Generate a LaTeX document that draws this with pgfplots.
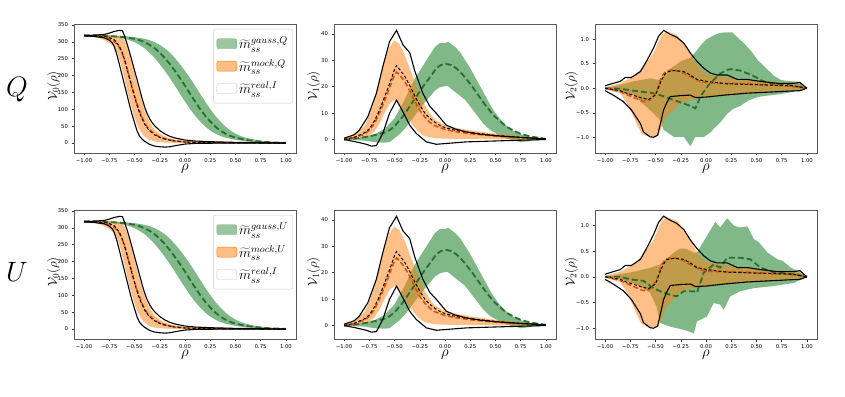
\RequirePackage{fix-cm}
\documentclass[border=0pt]{standalone}
\usepackage{fontspec}
\usepackage{pgfplots}
\pgfplotsset{compat=1.18}
\newfontfamily\tickfont{DejaVu Sans}

\definecolor{gband}{RGB}{129,184,135}
\definecolor{mockc}{RGB}{255,127,14}
\definecolor{gline}{RGB}{40,112,48}
\definecolor{oline}{RGB}{218,84,14}

\pgfplotsset{
  panel/.style={
    scale only axis, width=222pt, height=129pt,
    xmin=-1.1, xmax=1.1,
    xtick={-1,-0.75,-0.5,-0.25,0,0.25,0.5,0.75,1},
    xticklabels={−1.00,−0.75,−0.50,−0.25,0.00,0.25,0.50,0.75,1.00},
    tick label style={font=\tickfont\fontsize{5.3}{6}\selectfont},
    tick align=outside, xtick pos=lower, ytick pos=left,
    major tick length=2.5pt,
    tick style={black!80, line width=0.5pt},
    axis line style={black!65, line width=0.6pt},
    xlabel={$\rho$},
    x label style={font=\fontsize{15}{17}\selectfont, at={(axis description cs:0.5,0)}, anchor=north, yshift=-11pt, inner sep=0pt},
    y label style={font=\fontsize{13}{15}\selectfont, at={(axis description cs:-0.092,0.52)}, anchor=center, inner sep=0pt},
  },
  leg/.style={
    legend style={at={(0.987,0.962)}, anchor=north east, draw=black!20,
      rounded corners=2pt, fill=white, fill opacity=0.8, text opacity=1,
      font=\fontsize{14}{16}\selectfont, inner xsep=3pt, inner ysep=6pt, row sep=5pt},
    legend cell align=left,
  },
  gfill/.style={fill=gband, draw=none, forget plot},
  mfill/.style={fill=mockc, fill opacity=0.5, draw=none, forget plot},
  gmean/.style={gline, line width=1.8pt, dash pattern=on 6pt off 3pt, forget plot},
  mmean/.style={oline, line width=1.6pt, dash pattern=on 5pt off 2.5pt, forget plot},
  rline/.style={black, line width=1.1pt, forget plot},
  rmean/.style={black, line width=1pt, dash pattern=on 3pt off 2pt, forget plot},
  vzero/.style={ymin=-29.5, ymax=353, ytick={0,50,100,150,200,250,300,350},
    yticklabels={0,50,100,150,200,250,300,350}, ylabel={$\mathcal{V}_0(\rho)$}},
  vone/.style={ymin=-5.1, ymax=43.7, ytick={0,10,20,30,40},
    yticklabels={0,10,20,30,40}, ylabel={$\mathcal{V}_1(\rho)$}},
  vtwo/.style={ytick={-1,-0.5,0,0.5,1}, yticklabels={−1.0,−0.5,0.0,0.5,1.0},
    ylabel={$\mathcal{V}_2(\rho)$},
    y label style={at={(axis description cs:-0.107,0.52)}}},
}

% ---------------- V0 (same in both rows) ----------------
\newcommand\plotsVzero{%
% gauss band: upper edge left to right, lower edge back
\addplot[gfill] coordinates {(-1,320)(-0.8,319.5)(-0.6,317)(-0.5,314)(-0.4,309)(-0.35,305)(-0.3,299)(-0.25,291)(-0.2,281)(-0.15,268)(-0.1,252)(-0.05,234)(0,214)(0.05,193)(0.1,170)(0.15,146)(0.2,123)(0.25,101)(0.3,81)(0.35,64)(0.4,49)(0.45,37)(0.5,28)(0.55,21)(0.6,16)(0.7,9.5)(0.8,5.5)(0.9,3)(1,1.5)
 (1,0)(0.9,0.5)(0.8,1.5)(0.7,3)(0.6,5.5)(0.5,9.5)(0.4,16)(0.35,21)(0.3,28)(0.25,37)(0.2,49)(0.15,64)(0.1,81)(0.05,101)(0,123)(-0.05,146)(-0.1,170)(-0.15,193)(-0.2,214)(-0.25,234)(-0.3,252)(-0.35,268)(-0.4,281)(-0.45,291)(-0.5,299)(-0.55,305)(-0.6,309)(-0.7,314)(-0.8,317)(-1,319)};
% mock band
\addplot[mfill] coordinates {(-1,320)(-0.8,320)(-0.7,319.5)(-0.65,317)(-0.62,312)(-0.6,305)(-0.575,285)(-0.55,262)(-0.525,234)(-0.5,205)(-0.475,177)(-0.45,150)(-0.425,123)(-0.4,98)(-0.375,78)(-0.35,62)(-0.325,50)(-0.3,40)(-0.25,28)(-0.2,20)(-0.15,14)(-0.1,10)(0,7)(0.1,5)(0.25,4)(0.5,2)(0.75,1)(1,0.5)
 (1,0)(0,0)(-0.1,0.5)(-0.2,1.5)(-0.3,4.5)(-0.35,9)(-0.4,19)(-0.425,28)(-0.45,40)(-0.475,55)(-0.5,75)(-0.525,100)(-0.55,128)(-0.575,158)(-0.6,190)(-0.625,222)(-0.65,250)(-0.675,270)(-0.7,285)(-0.75,297)(-0.8,305)(-0.85,311)(-0.9,315)(-1,317.5)};
% gauss mean
\addplot[gmean] coordinates {(-1,320)(-0.8,318.5)(-0.6,314)(-0.5,309)(-0.45,305)(-0.4,299)(-0.35,291)(-0.3,281)(-0.25,268)(-0.2,252)(-0.15,234)(-0.1,214)(-0.05,193)(0,170)(0.05,146)(0.1,123)(0.15,101)(0.2,81)(0.25,64)(0.3,49)(0.35,37)(0.4,28)(0.45,21)(0.5,16)(0.6,9.5)(0.7,5.5)(0.8,3)(0.9,1.5)(1,0.5)};
% mock mean
\addplot[mmean] coordinates {(-1,318)(-0.9,317)(-0.8,314)(-0.75,310)(-0.7,302)(-0.65,284)(-0.625,268)(-0.6,248)(-0.575,222)(-0.55,195)(-0.525,167)(-0.5,140)(-0.475,116)(-0.45,95)(-0.425,76)(-0.4,60)(-0.375,48)(-0.35,39)(-0.3,26)(-0.25,18)(-0.2,12.5)(-0.15,9)(-0.1,6.5)(0,3.5)(0.1,2.2)(0.25,1.3)(0.5,0.6)(0.75,0.3)(1,0)};
% real band edges
\addplot[rline] coordinates {(-1,318)(-0.9,320)(-0.8,322)(-0.75,326)(-0.7,331)(-0.65,334)(-0.62,333)(-0.6,318)(-0.575,295)(-0.55,270)(-0.525,243)(-0.5,215)(-0.475,188)(-0.45,160)(-0.425,132)(-0.4,107)(-0.375,87)(-0.35,72)(-0.325,60)(-0.3,51)(-0.25,37)(-0.2,27)(-0.15,20)(-0.1,15)(0,9)(0.1,6)(0.25,4)(0.5,2)(0.75,1)(1,0)};
\addplot[rline] coordinates {(-1,318)(-0.9,316)(-0.8,312)(-0.75,305)(-0.72,297)(-0.7,285)(-0.675,262)(-0.65,233)(-0.625,203)(-0.6,173)(-0.575,143)(-0.55,113)(-0.525,85)(-0.5,60)(-0.475,36)(-0.45,20)(-0.43,13)(-0.4,5)(-0.35,-4)(-0.3,-9)(-0.25,-11)(-0.2,-12)(-0.15,-11)(-0.1,-8)(0,-3)(0.1,-1)(0.25,-0.5)(0.5,0)(1,0)};
% real mean
\addplot[rmean] coordinates {(-1,318)(-0.9,318)(-0.8,316)(-0.75,313)(-0.7,306)(-0.65,287)(-0.625,270)(-0.6,248)(-0.575,220)(-0.55,192)(-0.525,164)(-0.5,137)(-0.475,112)(-0.45,90)(-0.425,72)(-0.4,56)(-0.375,45)(-0.35,36)(-0.3,24)(-0.25,17)(-0.2,12)(-0.15,8.5)(-0.1,6)(0,3)(0.1,2)(0.25,1.3)(0.5,0.6)(0.75,0.3)(1,0)};
}

% ---------------- V1 (same in both rows) ----------------
\newcommand\plotsVone{%
\addplot[gfill] coordinates {(-1,0)(-0.9,0.5)(-0.8,1)(-0.7,2)(-0.6,4)(-0.5,8)(-0.4,15)(-0.3,23)(-0.2,29)(-0.15,32)(-0.1,35)(-0.05,36.5)(0,36.5)(0.03,37)(0.1,35)(0.15,33)(0.2,30)(0.25,27)(0.3,23.5)(0.35,20)(0.4,16.5)(0.45,13)(0.5,10)(0.55,7.5)(0.6,5.5)(0.65,4)(0.7,2.8)(0.75,2)(0.85,1)(1,0.3)
 (1,0)(0.9,-0.3)(0.8,-0.8)(0.75,-1)(0.7,-0.5)(0.6,0.5)(0.54,1.6)(0.45,3.5)(0.38,6)(0.3,10)(0.2,15)(0.1,18)(0.03,20.2)(0,20.2)(-0.05,19.8)(-0.1,18.5)(-0.2,14)(-0.3,9)(-0.4,4)(-0.45,2)(-0.5,0.5)(-0.55,-1)(-0.6,-1.2)(-0.7,-1)(-0.8,-0.4)(-0.9,-0.2)(-1,0)};
\addplot[mfill] coordinates {(-1,0.3)(-0.9,2)(-0.8,5)(-0.75,9)(-0.7,15)(-0.65,23)(-0.6,30)(-0.55,35)(-0.5,37.5)(-0.45,36)(-0.4,32)(-0.35,27)(-0.3,22)(-0.25,17)(-0.2,13)(-0.15,10)(-0.1,7.5)(0,5.5)(0.1,4.5)(0.25,3.5)(0.5,2.2)(0.75,1.2)(1,0.3)
 (1,0)(0.5,0.1)(0,0.3)(-0.1,0.5)(-0.2,1.2)(-0.25,2.5)(-0.3,4.5)(-0.35,7)(-0.4,10)(-0.45,13)(-0.5,15)(-0.55,13.5)(-0.6,10)(-0.65,6)(-0.7,3)(-0.75,1.5)(-0.8,0.8)(-0.9,0.2)(-1,0)};
\addplot[gmean] coordinates {(-1,0)(-0.9,0.3)(-0.78,1)(-0.7,1.6)(-0.6,2.6)(-0.55,3.5)(-0.5,5)(-0.42,8.6)(-0.35,12.5)(-0.285,16.2)(-0.2,21)(-0.14,24)(-0.086,27)(-0.04,28.2)(0.013,28.6)(0.06,28.2)(0.11,27)(0.16,25.2)(0.21,23)(0.28,19.5)(0.34,16.2)(0.41,12.5)(0.48,9.2)(0.55,6.8)(0.61,4.8)(0.68,3.4)(0.74,2.3)(0.8,1.6)(0.87,1)(1,0.25)};
\addplot[mmean] coordinates {(-1,0)(-0.9,0.7)(-0.8,2)(-0.75,3.5)(-0.7,6)(-0.65,10)(-0.6,14.5)(-0.55,19.5)(-0.5,24.5)(-0.48,25.5)(-0.45,24.5)(-0.4,22)(-0.35,18.5)(-0.3,14.5)(-0.25,11)(-0.2,8.5)(-0.15,6.5)(-0.1,5.2)(0,3.8)(0.1,3)(0.25,2.2)(0.5,1.3)(0.75,0.7)(1,0.2)};
\addplot[rline] coordinates {(-1,0.5)(-0.9,1.8)(-0.85,3.5)(-0.765,8.6)(-0.68,17.5)(-0.616,27.6)(-0.55,37)(-0.48,41.3)(-0.417,35.8)(-0.35,32.9)(-0.3,26)(-0.22,17.5)(-0.15,12.5)(-0.086,9.9)(0.013,5.4)(0.1,4)(0.21,2.9)(0.35,2)(0.54,1.3)(0.75,0.8)(1,0.25)};
\addplot[rline] coordinates {(-1,0)(-0.88,-0.9)(-0.78,-1.8)(-0.73,-2.5)(-0.68,-2.3)(-0.616,2.3)(-0.55,9.9)(-0.48,14.9)(-0.417,10.5)(-0.35,5.4)(-0.285,2.3)(-0.185,-0.9)(-0.086,-1.8)(0.08,-1.3)(0.21,-0.9)(0.54,-0.5)(1,0)};
\addplot[rmean] coordinates {(-1,0)(-0.9,0.8)(-0.8,2.5)(-0.75,4)(-0.7,7)(-0.65,11)(-0.6,16)(-0.55,21)(-0.5,26.5)(-0.48,28)(-0.45,26.5)(-0.4,24)(-0.35,20.5)(-0.3,16.5)(-0.25,13)(-0.2,10)(-0.15,8)(-0.1,6.5)(-0.05,5.3)(0,4.5)(0.1,3.5)(0.25,2.6)(0.5,1.6)(0.75,0.8)(1,0.2)};
}

% ---------------- V2: mock band, means and real curves ----------------
\newcommand\mockVtwo{%
\addplot[mfill] coordinates {(-1,0.02)(-0.85,0.1)(-0.72,0.24)(-0.62,0.44)(-0.52,0.72)(-0.44,1.09)(-0.39,1.16)(-0.29,1.09)(-0.19,0.85)(-0.12,0.58)(-0.056,0.375)(0,0.3)(0.05,0.27)(0.15,0.24)(0.3,0.19)(0.5,0.15)(0.75,0.12)(0.9,0.1)(1,0)
 (0.75,-0.07)(0.5,-0.1)(0.25,-0.14)(0.1,-0.17)(-0.05,-0.2)(-0.155,-0.24)(-0.255,-0.31)(-0.39,-0.58)(-0.44,-0.79)(-0.47,-0.96)(-0.555,-1.0)(-0.64,-0.92)(-0.69,-0.72)(-0.75,-0.44)(-0.8,-0.25)(-0.85,-0.1)(-1,-0.02)};
}
\newcommand\realVtwo{%
\addplot[mmean] coordinates {(-1,0)(-0.85,-0.07)(-0.74,-0.17)(-0.62,-0.27)(-0.555,-0.24)(-0.49,-0.07)(-0.44,0.24)(-0.4,0.34)(-0.34,0.375)(-0.27,0.35)(-0.22,0.31)(-0.155,0.24)(-0.056,0.14)(0.044,0.1)(0.2,0.1)(0.4,0.09)(0.6,0.07)(0.8,0.05)(1,0)};
\addplot[rline] coordinates {(-1,0.05)(-0.92,0.1)(-0.85,0.14)(-0.8,0.22)(-0.74,0.22)(-0.65,0.34)(-0.59,0.55)(-0.52,0.82)(-0.47,1.06)(-0.42,1.18)(-0.355,1.1)(-0.29,1.04)(-0.22,0.92)(-0.156,0.72)(-0.09,0.55)(-0.023,0.41)(0.043,0.31)(0.11,0.27)(0.21,0.27)(0.31,0.18)(0.41,0.18)(0.54,0.14)(0.71,0.1)(0.87,0.1)(0.93,0.12)(1,0)};
\addplot[rline] coordinates {(-1,-0.05)(-0.92,-0.14)(-0.82,-0.27)(-0.74,-0.44)(-0.65,-0.72)(-0.62,-0.89)(-0.555,-0.99)(-0.52,-1.0)(-0.48,-0.96)(-0.455,-0.75)(-0.42,-0.44)(-0.39,-0.3)(-0.355,-0.17)(-0.25,-0.15)(-0.155,-0.14)(-0.105,-0.19)(0,-0.18)(0.18,-0.14)(0.41,-0.1)(0.61,-0.08)(0.81,-0.06)(0.93,-0.05)(1,0)};
\addplot[rmean] coordinates {(-1,0)(-0.85,-0.05)(-0.79,-0.1)(-0.65,-0.19)(-0.57,-0.23)(-0.5,-0.14)(-0.455,0.1)(-0.42,0.25)(-0.39,0.33)(-0.32,0.36)(-0.22,0.34)(-0.156,0.27)(-0.09,0.18)(0.01,0.14)(0.21,0.09)(0.54,0.07)(0.87,0.05)(1,0)};
}

\newcommand\legendrows[1]{%
\addlegendimage{legend image code/.code={\fill[gband] (0pt,-5pt) rectangle (20pt,5pt);}}
\addlegendentry{$\widetilde{m}^{gauss,#1}_{ss}$}
\addlegendimage{legend image code/.code={\fill[mockc, fill opacity=0.5] (0pt,-5pt) rectangle (20pt,5pt);}}
\addlegendentry{$\widetilde{m}^{mock,#1}_{ss}$}
\addlegendimage{legend image code/.code={\filldraw[fill=white, draw=black!22, line width=0.4pt] (0pt,-5pt) rectangle (20pt,5pt);}}
\addlegendentry{$\widetilde{m}^{real,I}_{ss}$}
}

\begin{document}
\begin{tikzpicture}
\path[use as bounding box] (0,0) rectangle (845pt,396pt);

\node[font=\fontsize{28}{32}\selectfont] at (17pt,306pt) {$Q$};
\node[font=\fontsize{28}{32}\selectfont] at (17pt,124pt) {$U$};

% ===== row Q =====
\begin{axis}[panel, vzero, leg, at={(74pt,243pt)}, anchor=south west]
\plotsVzero
\legendrows{Q}
\end{axis}

\begin{axis}[panel, vone, at={(334pt,243pt)}, anchor=south west]
\plotsVone
\end{axis}

\begin{axis}[panel, vtwo, ymin=-1.32, ymax=1.31, at={(595pt,243pt)}, anchor=south west]
\addplot[gfill] coordinates {(-1,0)(-0.85,0.07)(-0.72,0.14)(-0.555,0.2)(-0.47,0.17)(-0.43,0.22)(-0.35,0.4)(-0.25,0.55)(-0.155,0.62)(-0.1,0.75)(-0.05,0.88)(0,0.99)(0.05,1.05)(0.1,1.1)(0.14,1.13)(0.2,1.14)(0.26,1.14)(0.3,1.06)(0.375,0.92)(0.45,0.75)(0.51,0.58)(0.56,0.48)(0.61,0.38)(0.67,0.26)(0.74,0.17)(0.8,0.15)(0.87,0.14)(0.93,0.12)(1,0)
 (0.87,-0.07)(0.74,-0.12)(0.61,-0.15)(0.51,-0.18)(0.41,-0.26)(0.34,-0.36)(0.27,-0.42)(0.21,-0.52)(0.14,-0.7)(0.1,-0.78)(0.044,-0.9)(-0.02,-0.99)(-0.105,-0.99)(-0.155,-1.18)(-0.22,-0.99)(-0.32,-0.99)(-0.42,-0.85)(-0.455,-0.65)(-0.52,-0.51)(-0.59,-0.38)(-0.72,-0.14)(-0.85,-0.07)(-1,0)};
\mockVtwo
\addplot[gmean] coordinates {(-1,0)(-0.85,-0.01)(-0.72,-0.05)(-0.6,-0.08)(-0.55,-0.09)(-0.455,-0.14)(-0.32,-0.24)(-0.22,-0.31)(-0.155,-0.36)(-0.105,-0.41)(-0.056,-0.17)(0.027,0.07)(0.076,0.17)(0.14,0.3)(0.21,0.375)(0.25,0.39)(0.34,0.36)(0.44,0.28)(0.5,0.22)(0.54,0.17)(0.6,0.12)(0.67,0.1)(0.81,0.07)(1,0)};
\realVtwo
\end{axis}

% ===== row U =====
\begin{axis}[panel, vzero, leg, at={(74pt,57pt)}, anchor=south west]
\plotsVzero
\legendrows{U}
\end{axis}

\begin{axis}[panel, vone, at={(334pt,57pt)}, anchor=south west]
\plotsVone
\end{axis}

\begin{axis}[panel, vtwo, ymin=-1.21, ymax=1.30, at={(595pt,57pt)}, anchor=south west]
\addplot[gfill] coordinates {(-1,0)(-0.85,0.05)(-0.69,0.11)(-0.55,0.18)(-0.455,0.24)(-0.32,0.47)(-0.256,0.55)(-0.19,0.54)(-0.12,0.47)(-0.09,0.47)(0.01,0.8)(0.093,1.07)(0.14,0.96)(0.21,1.14)(0.28,0.99)(0.34,0.96)(0.41,0.98)(0.475,0.73)(0.525,0.67)(0.61,0.47)(0.71,0.34)(0.76,0.31)(0.84,0.18)(0.94,0.08)(1,0)
 (0.87,-0.12)(0.67,-0.18)(0.475,-0.22)(0.34,-0.28)(0.24,-0.38)(0.176,-0.64)(0.14,-0.54)(0.076,-0.51)(0.01,-0.77)(-0.09,-0.87)(-0.12,-1.1)(-0.22,-1.03)(-0.355,-0.97)(-0.455,-0.9)(-0.49,-0.58)(-0.555,-0.31)(-0.69,-0.15)(-0.85,-0.05)(-1,0)};
\mockVtwo
\addplot[gmean] coordinates {(-1,0)(-0.85,0)(-0.75,-0.05)(-0.62,-0.08)(-0.52,-0.22)(-0.455,-0.28)(-0.355,-0.35)(-0.29,-0.38)(-0.22,-0.28)(-0.12,-0.28)(-0.09,-0.31)(-0.023,0.08)(0.076,0.24)(0.14,0.18)(0.21,0.37)(0.34,0.37)(0.44,0.34)(0.54,0.18)(0.67,0.09)(0.87,0.05)(1,0)};
\realVtwo
\end{axis}
\end{tikzpicture}
\end{document}
